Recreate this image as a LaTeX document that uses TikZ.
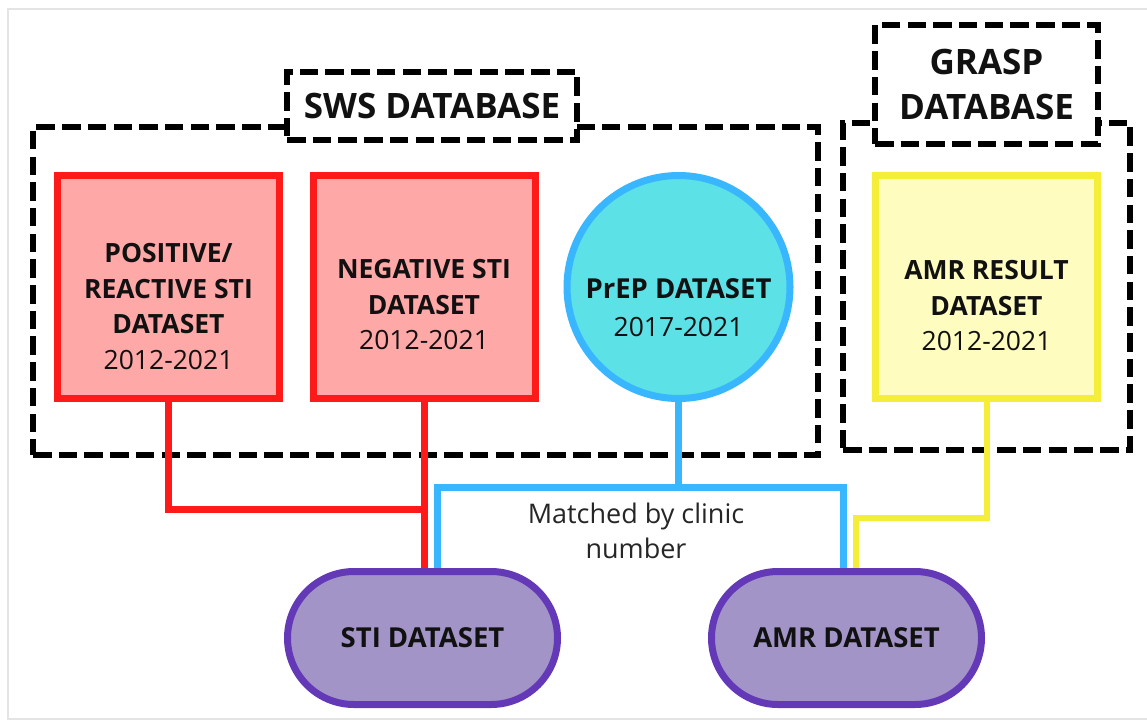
\documentclass[tikz,border=0pt]{standalone}
\usepackage{fontspec}
\setmainfont{Open Sans}

\definecolor{framegray}{HTML}{E4E4E4}
\definecolor{redline}{HTML}{FF1A1A}
\definecolor{redfill}{HTML}{FFA8A8}
\definecolor{blueline}{HTML}{38B6FF}
\definecolor{cyanfill}{HTML}{5CE1E6}
\definecolor{yelline}{HTML}{F5EE38}
\definecolor{yelfill}{HTML}{FFFCC0}
\definecolor{purpline}{HTML}{6439B8}
\definecolor{purpfill}{HTML}{A394C7}
\definecolor{inktext}{HTML}{111111}

\begin{document}
\begin{tikzpicture}[x=1pt,y=-1pt,
  dbarea/.style={draw=black, line width=5.5pt, dash pattern=on 18.5pt off 7.2pt,
    inner sep=0pt, outer sep=0pt},
  dblabel/.style={dbarea, fill=white, text=inktext, align=center,
    font=\fontsize{35}{45}\selectfont\bfseries},
  redbox/.style={draw=redline, fill=redfill, line width=7pt, inner sep=0pt,
    minimum width=222pt, minimum height=223pt},
  yelbox/.style={draw=yelline, fill=yelfill, line width=7pt, inner sep=0pt,
    minimum width=222pt, minimum height=223pt},
  prepdisc/.style={circle, draw=blueline, fill=cyanfill, line width=7pt,
    inner sep=0pt, minimum size=223pt},
  pill/.style={draw=purpline, fill=purpfill, line width=7pt, inner sep=0pt,
    minimum width=270pt, minimum height=133pt, rounded corners=66.5pt,
    text=inktext, font=\fontsize{27.5}{30}\selectfont\bfseries},
  boxtext/.style={align=center, text=inktext, inner sep=0pt,
    font=\fontsize{26.5}{35.5}\selectfont},
  redlink/.style={draw=redline, line width=7pt},
  bluelink/.style={draw=blueline, line width=7pt},
  yellink/.style={draw=yelline, line width=6pt},
]
\useasboundingbox (0,0) rectangle (1147,720);
\clip (0,0) rectangle (1147,720);

% outer frame
\draw[framegray, line width=2pt] (8,9) rectangle (1170,719);

% database groupings
\node[dbarea, minimum width=785pt, minimum height=328pt] (swsarea) at (425.5,291) {};
\node[dbarea, minimum width=287pt, minimum height=327pt] (grasparea) at (986.5,286.5) {};
\node[dblabel, minimum width=290pt, minimum height=68pt] (swslabel) at (432,106) {SWS DATABASE};
\node[dblabel, minimum width=223pt, minimum height=119pt] (grasplabel) at (986.5,84.5) {GRASP\\DATABASE};

% source datasets
\node[redbox] (pos) at (168.5,287) {};
\node[redbox] (neg) at (424,287) {};
\node[prepdisc] (prep) at (678.5,287) {};
\node[yelbox] (amrres) at (986.5,287) {};

\node[boxtext] (postext) at (168.5,306.5)
  {\textbf{POSITIVE/}\\\textbf{REACTIVE STI}\\\textbf{DATASET}\\2012-2021};
\node[boxtext] (negtext) at (424,305)
  {\textbf{NEGATIVE STI}\\\textbf{DATASET}\\2012-2021};
\node[boxtext, font=\fontsize{26.5}{38}\selectfont] (preptext) at (678.5,307.5)
  {{\fontsize{27.5}{38}\selectfont\bfseries PrEP DATASET}\\2017-2021};
\node[boxtext] (amrrestext) at (986.5,306)
  {\textbf{AMR RESULT}\\\textbf{DATASET}\\2012-2021};

% merged datasets
\node[pill] (sti) at (422.5,638) {STI DATASET};
\node[pill] (amr) at (846.5,638) {AMR DATASET};

% connector end points on the merged datasets
\path (sti.north) ++(14.5,0) coordinate (stiblue);
\path (amr.north) ++(-3.5,0) coordinate (amrblue);
\path (amr.north) ++(9.5,0) coordinate (amryel);

% red links into the STI dataset
\draw[redlink] (pos.south) -- ++(0,107) -| (neg.south);
\draw[redlink] (neg.south) -- (neg.south |- sti.north);

% blue link from PrEP to both merged datasets
\draw[bluelink] (prep.south) -- ++(0,85) coordinate (bluemid);
\draw[bluelink] (stiblue) |- (bluemid) -| (amrblue);

% yellow link into the AMR dataset
\draw[yellink] (amrres.south) -- ++(0,116) -| (amryel);

\node[boxtext, text=black!85, font=\fontsize{27}{35}\selectfont] (matchnote) at (636,531)
  {Matched by clinic\\number};
\end{tikzpicture}
\end{document}
